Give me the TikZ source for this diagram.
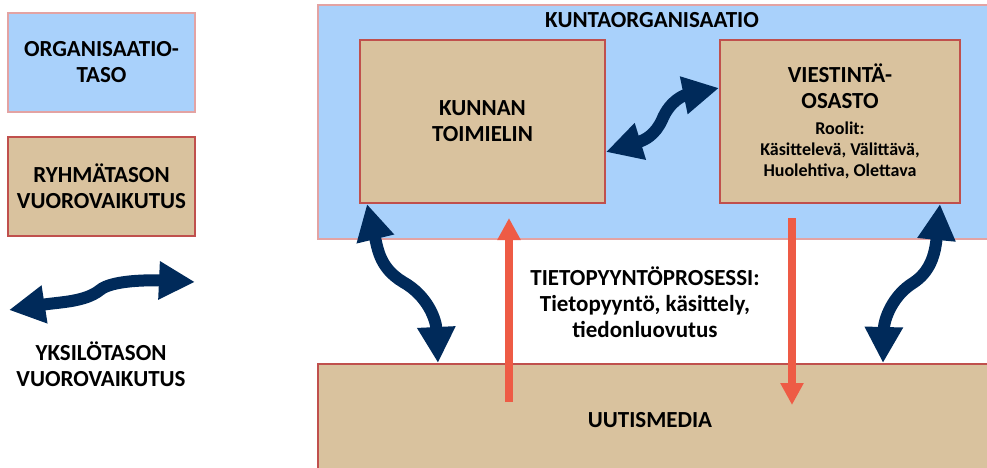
\documentclass[tikz,border=0pt]{standalone}
\usepackage{fontspec}
\setmainfont{Carlito}
\usetikzlibrary{arrows.meta}
\definecolor{orgblue}{HTML}{A9D1FB}
\definecolor{grouptan}{HTML}{D9C29E}
\definecolor{boxred}{HTML}{C0504D}
\definecolor{navy}{HTML}{002A5A}
\definecolor{reqred}{HTML}{EE5B45}
\definecolor{pinkline}{HTML}{E3A3A3}

\tikzset{
  orgbox/.style={draw=pinkline, line width=0.6pt, fill=orgblue},
  groupbox/.style={draw=boxred, line width=1pt, fill=grouptan},
  lbl/.style={font=\fontsize{11.5}{13}\selectfont\bfseries, align=center, inner sep=0pt},
  wavy/.style={draw=navy, line width=6pt, line join=round,
    {Triangle[length=18pt,width=18pt]}-{Triangle[length=18pt,width=18pt]}},
  reqarrow/.style={draw=reqred, line width=4pt, -{Triangle[length=11pt,width=11pt]}},
}
\newcommand{\roles}{\fontsize{9}{11}\selectfont}

\begin{document}
\begin{tikzpicture}[x=0.5pt, y=-0.5pt]
\useasboundingbox (0,0) rectangle (987,467);
% legend
\node[orgbox, lbl, minimum width=93.5pt, minimum height=49.5pt] (orglegend) at (101.5,62.5) {ORGANISAATIO-\\TASO};
\node[groupbox, lbl, minimum width=93.5pt, minimum height=49.5pt] (grouplegend) at (101.5,186.5) {RYHMÄTASON\\VUOROVAIKUTUS};
\coordinate (legleft) at (9,310);
\coordinate (legright) at (195,282);
\draw[wavy] (legleft) .. controls (60,302) and (85,302) .. (100,290) .. controls (112,280) and (150,280) .. (legright);
\node[lbl] (indlegend) at (101,364) {YKSILÖTASON\\VUOROVAIKUTUS};

% organisation level
\node[orgbox, minimum width=336pt, minimum height=117pt] (kunta) at (654,122) {};
\node[lbl] (kuntatitle) at (652,20) {KUNTAORGANISAATIO};
\node[groupbox, lbl, minimum width=122.5pt, minimum height=81.5pt] (toimielin) at (482.5,121.5) {KUNNAN\\TOIMIELIN};
\node[groupbox, lbl, minimum width=120pt, minimum height=81.5pt] (viestinta) at (840,121.5)
  {VIESTINTÄ-\\OSASTO\\\roles Roolit:\\[-2.5pt]\roles Käsittelevä, Välittävä,\\[-2.5pt]\roles Huolehtiva, Olettava};

% news media
\node[groupbox, minimum width=336pt, minimum height=53pt] (media) at (654,417) {};
\node[lbl] (mediatitle) at (650,420) {UUTISMEDIA};

% request process
\node[lbl] (process) at (645,302) {TIETOPYYNTÖPROSESSI:\\Tietopyyntö, käsittely,\\tiedonluovutus};
\coordinate (reqtail) at (509,402);
\coordinate (reqtip) at (509,218);
\coordinate (reptail) at (792,218);
\coordinate (reptip) at (792,405);
\draw[reqarrow] (reqtail) -- (reqtip);
\draw[reqarrow] (reptail) -- (reptip);

% individual interaction
\draw[wavy] (toimielin.south -| 367,0) .. controls (378,250) and (380,268) .. (403,282)
  .. controls (428,296) and (436,320) .. (media.north -| 438,0);
\draw[wavy] (viestinta.south -| 940,0) .. controls (935,255) and (930,272) .. (913,283)
  .. controls (892,296) and (884,320) .. (media.north -| 883,0);
\draw[wavy] (toimielin.east |- 0,152) .. controls (645,140) and (655,135) .. (662,120)
  .. controls (670,100) and (685,95) .. (viestinta.west |- 0,88);
\end{tikzpicture}
\end{document}
